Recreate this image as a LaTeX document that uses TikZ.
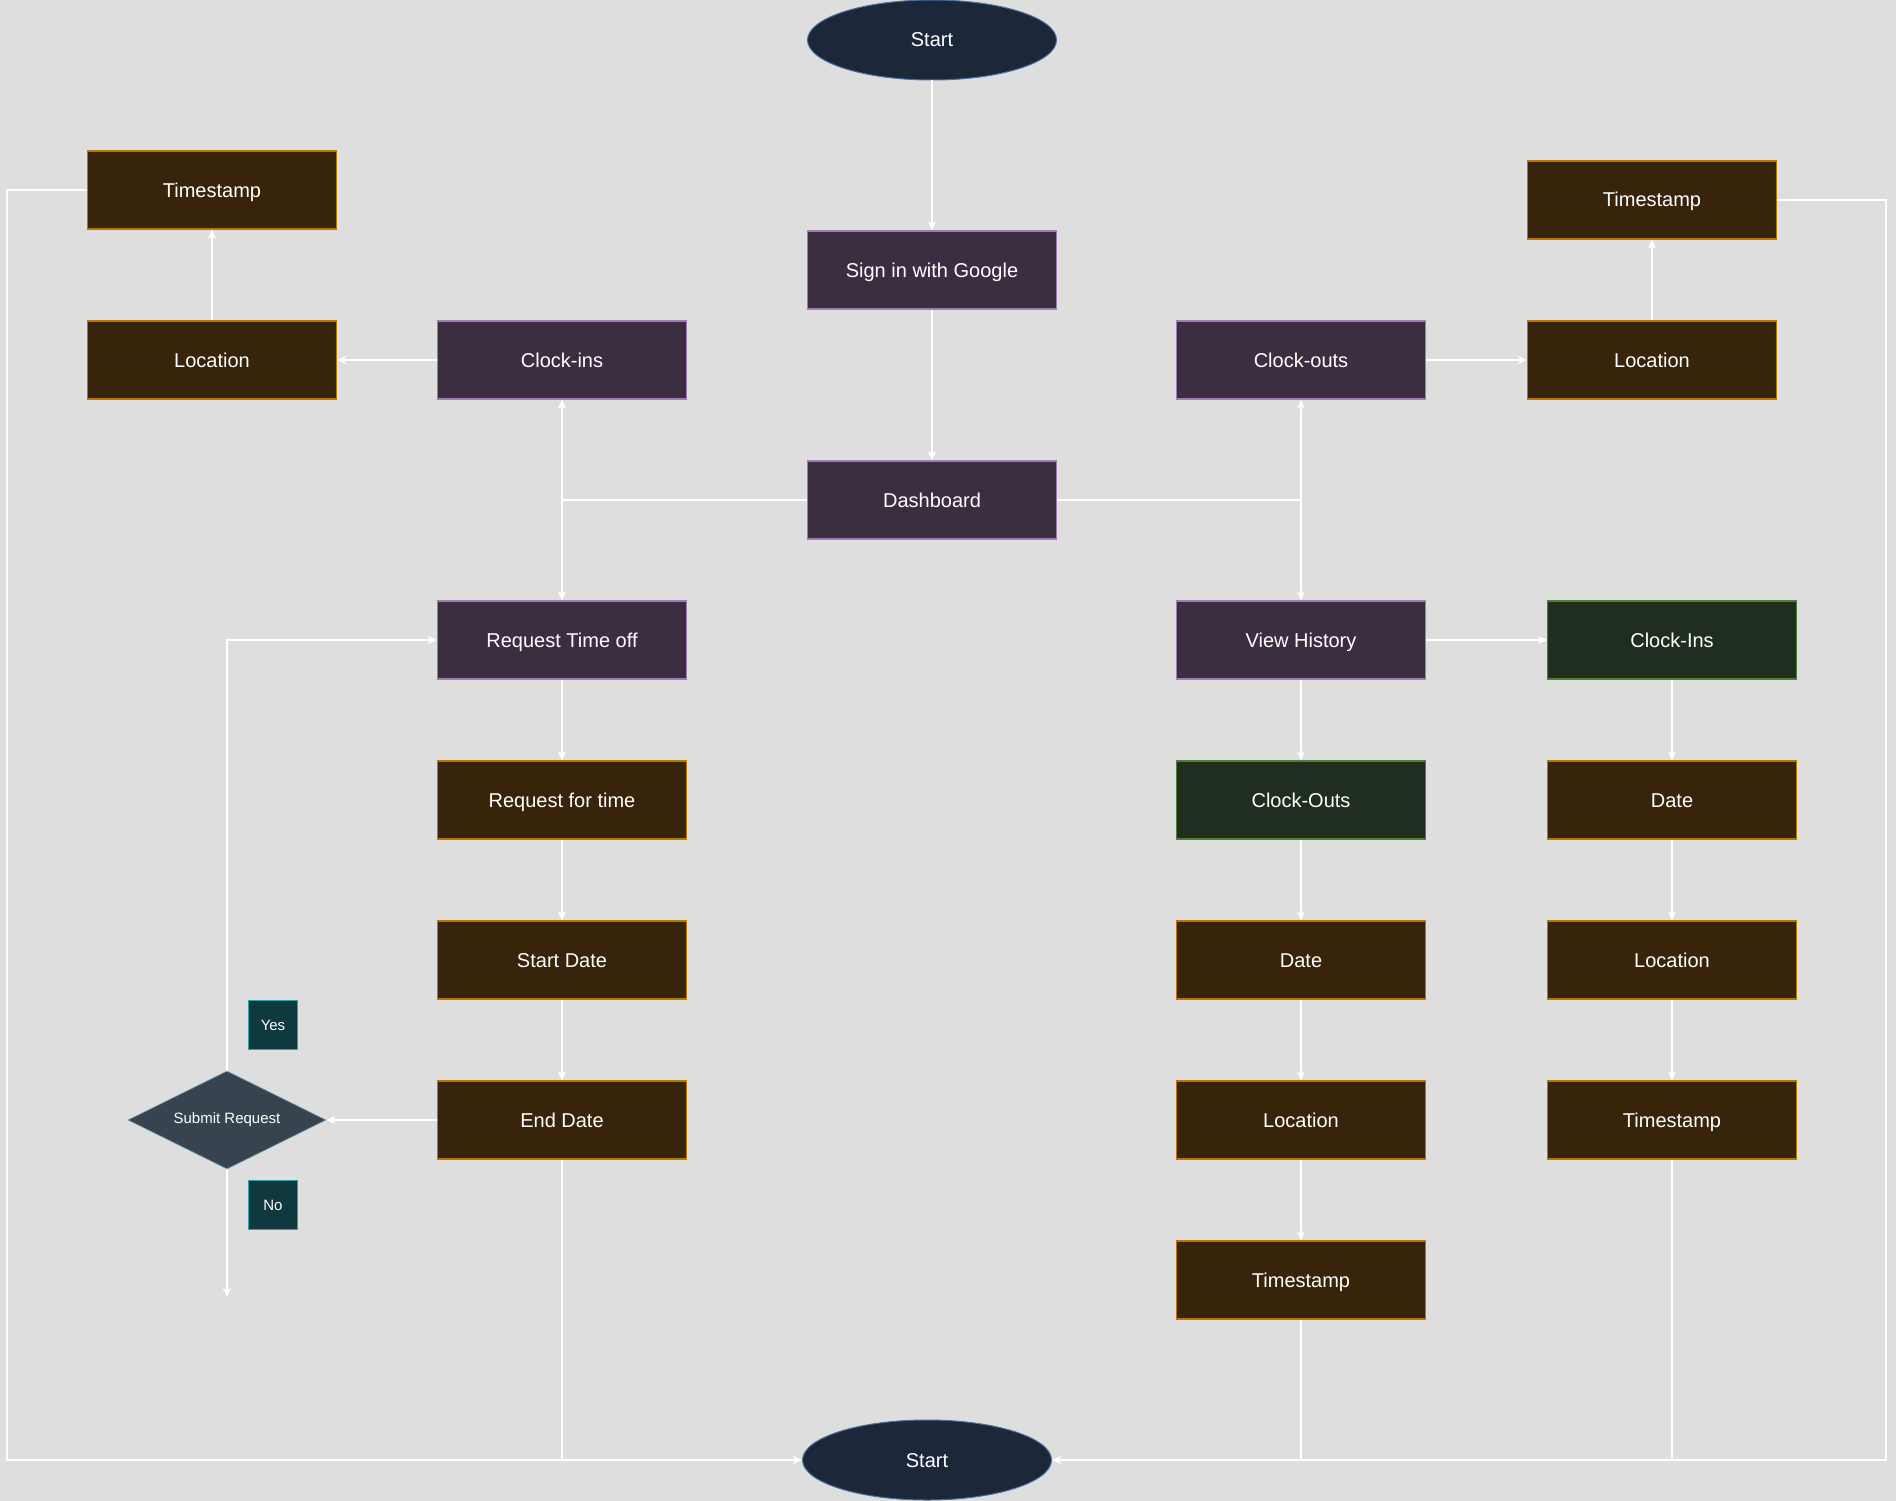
\documentclass[tikz,border=0pt]{standalone}
\usepackage{fontspec}
\setmainfont{Liberation Sans}
\usetikzlibrary{arrows.meta,shapes.geometric,positioning}

\definecolor{bgcol}{HTML}{DEDEDE}
\definecolor{pagefill}{HTML}{3B2E40}
\definecolor{pageline}{HTML}{A07CB4}
\definecolor{datafill}{HTML}{38230B}
\definecolor{dataline}{HTML}{B87800}
\definecolor{listfill}{HTML}{1F2E1E}
\definecolor{listline}{HTML}{4C8033}
\definecolor{termfill}{HTML}{1C273A}
\definecolor{termline}{HTML}{4F6F9F}
\definecolor{askfill}{HTML}{37444F}
\definecolor{askline}{HTML}{6A9AB8}
\definecolor{tagfill}{HTML}{10393F}
\definecolor{tagline}{HTML}{2EA3AD}

\tikzset{
  box/.style={rectangle,minimum width=249pt,minimum height=78pt,line width=1.2pt,
    text=white,text height=14pt,text depth=0pt,font=\fontsize{20}{24}\selectfont},
  page/.style={box,fill=pagefill,draw=pageline},
  data/.style={box,fill=datafill,draw=dataline},
  list/.style={box,fill=listfill,draw=listline},
  term/.style={ellipse,minimum width=249pt,minimum height=80pt,inner sep=0pt,
    fill=termfill,draw=termline,line width=1pt,text=white,text height=14pt,text depth=0pt,
    font=\fontsize{20}{24}\selectfont},
  ask/.style={diamond,aspect=2,minimum width=198pt,minimum height=98pt,inner sep=0pt,
    fill=askfill,draw=askline,line width=0.6pt,text=white,font=\fontsize{15}{18}\selectfont},
  tag/.style={rectangle,minimum width=49pt,minimum height=49pt,fill=tagfill,draw=tagline,
    line width=1.2pt,text=white,font=\fontsize{15}{18}\selectfont}
}

\begin{document}
\begin{tikzpicture}[x=1pt,y=-1pt,->,>={Stealth[length=9pt,width=8pt,inset=2.5pt]},
        white,line width=1.2pt,node distance=160pt]

  \fill[bgcol] (0,0) rectangle (1896,1501);
  \useasboundingbox (0,0) rectangle (1896,1501);

  \node[term] (top) at (932,40) {Start};
  \node[page] (signin) at (932,270) {Sign in with Google};
  \node[page] (dash) at (932,500) {Dashboard};

  \node[page] (cin) at (562,360) {Clock-ins};
  \node[data] (cinloc) at (212,360) {Location};
  \node[data] (cints) at (212,190) {Timestamp};

  \node[page] (cout) at (1301,360) {Clock-outs};
  \node[data] (coutloc) at (1652,360) {Location};
  \node[data] (coutts) at (1652,200) {Timestamp};

  \node[page] (rto) at (562,640) {Request Time off};
  \node[data] (rft) [below of=rto] {Request for time};
  \node[data] (sdate) [below of=rft] {Start Date};
  \node[data] (edate) [below of=sdate] {End Date};
  \node[ask] (submit) at (227,1120) {Submit Request};
  \node[tag] (yes) at (273,1025) {Yes};
  \node[tag] (no) at (273,1205) {No};
  \coordinate (noend) at (227,1297);

  \node[page] (hist) at (1301,640) {View History};
  \node[list] (hout) [below of=hist] {Clock-Outs};
  \node[data] (houtdate) [below of=hout] {Date};
  \node[data] (houtloc) [below of=houtdate] {Location};
  \node[data] (houtts) [below of=houtloc] {Timestamp};

  \node[list] (hin) at (1672,640) {Clock-Ins};
  \node[data] (hindate) [below of=hin] {Date};
  \node[data] (hinloc) [below of=hindate] {Location};
  \node[data] (hints) [below of=hinloc] {Timestamp};

  \node[term] (stop) at (927,1460) {Start};
  \coordinate (lft) at (7,1460);
  \coordinate (rgt) at (1886,1460);

  \path (top) edge (signin)
        (signin) edge (dash)
        (cin) edge (cinloc)
        (cinloc) edge (cints)
        (cout) edge (coutloc)
        (coutloc) edge (coutts)
        (rto) edge (rft)
        (rft) edge (sdate)
        (sdate) edge (edate)
        (edate) edge (submit)
        (submit) edge (noend)
        (hist) edge (hin)
        (hist) edge (hout)
        (hout) edge (houtdate)
        (houtdate) edge (houtloc)
        (houtloc) edge (houtts)
        (hin) edge (hindate)
        (hindate) edge (hinloc)
        (hinloc) edge (hints);

  \draw (dash.west) -| (cin.south);
  \draw (dash.west) -| (rto.north);
  \draw (dash.east) -| (cout.south);
  \draw (dash.east) -| (hist.north);
  \draw (submit.north) |- (rto.west);

  \draw (cints.west) -| (lft) -- (stop.west);
  \draw (coutts.east) -| (rgt) -- (stop.east);
  \draw[-] (edate.south) -- (edate.south |- stop.west);
  \draw[-] (houtts.south) -- (houtts.south |- stop.east);
  \draw[-] (hints.south) -- (hints.south |- stop.east);

\end{tikzpicture}
\end{document}
